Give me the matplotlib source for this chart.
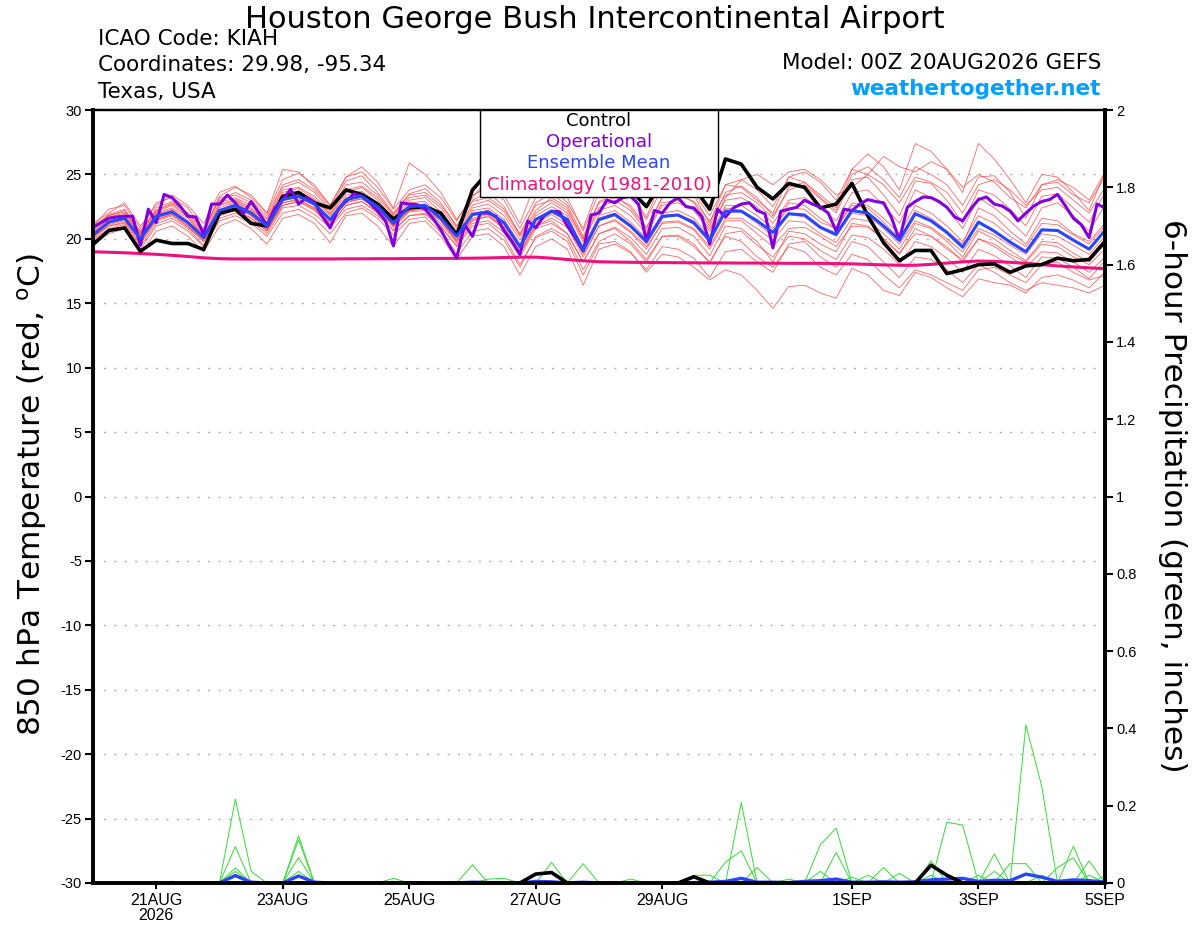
import numpy as np
import matplotlib
matplotlib.use('Agg')
import matplotlib.pyplot as plt
from matplotlib.patches import Rectangle

plt.rcParams['font.family'] = ['Liberation Sans', 'DejaVu Sans']
plt.rcParams['axes.unicode_minus'] = False
plt.rcParams['mathtext.fontset'] = 'custom'
plt.rcParams['mathtext.rm'] = 'DejaVu Sans'

WIDE = ['DejaVu Sans']

# forecast hours from 00Z 20AUG2026
hours = np.arange(0, 385, 6)
hours_op = np.arange(0, 385, 3)

tick_hours = [24, 72, 120, 168, 216, 288, 336, 384]
tick_labels = ['21AUG\n2026', '23AUG', '25AUG', '27AUG', '29AUG', '1SEP', '3SEP', '5SEP']

# 850 hPa temperature (C)
ctl_t = [19.56, 20.65, 20.85, 19.04,
         19.9, 19.64, 19.64, 19.17,
         22.0, 22.3, 21.2, 21.0,
         23.3, 23.6, 22.8, 22.4,
         23.8, 23.45, 22.7, 21.55,
         22.4, 22.5, 22.0, 20.3,
         23.8, 25.2, 25.0, 24.3,
         25.5, 25.0, 24.0, 23.5,
         24.8, 24.5, 23.8, 22.5,
         24.5, 24.8, 24.0, 22.3,
         26.2, 25.8, 24.0, 23.1,
         24.3, 24.0, 22.4, 22.7,
         24.3, 21.8, 19.7, 18.3,
         19.1, 19.1, 17.3, 17.6,
         18.0, 18.05, 17.4, 17.9,
         18.0, 18.5, 18.3, 18.4,
         19.8]

mean_t = [20.3, 21.3, 21.6, 20.0,
          21.75, 22.1, 21.25, 20.1,
          22.2, 22.6, 22.0, 21.0,
          23.05, 23.3, 22.7, 21.5,
          23.05, 23.3, 22.5, 21.2,
          22.5, 22.6, 21.6, 20.2,
          21.9, 22.1, 21.25, 19.4,
          21.5, 22.15, 21.5, 19.1,
          21.5, 21.9, 21.0, 19.8,
          21.75, 21.85, 21.25, 19.9,
          22.15, 22.15, 21.4, 20.5,
          21.95, 21.85, 20.9, 20.35,
          22.2, 22.0, 21.0, 19.9,
          21.95, 21.4, 20.5, 19.35,
          21.3, 20.6, 19.75, 19.0,
          20.7, 20.65, 19.9, 19.2,
          20.65]

op_t = [20.9, 21.25, 21.6, 21.7, 21.75, 21.75, 19.5, 22.3,
        21.25, 23.45, 23.2, 22.55, 21.75, 21.7, 20.35, 22.7,
        22.7, 23.4, 22.8, 21.95, 22.9, 22.0, 21.05, 22.4,
        23.05, 23.85, 22.7, 23.2, 22.8, 21.75, 20.85, 22.3,
        22.9, 23.5, 23.3, 22.8, 22.15, 21.4, 19.45, 22.8,
        22.7, 22.65, 22.3, 21.6, 20.7, 19.55, 18.5, 21.1,
        20.2, 22.0, 22.0, 21.75, 20.6, 19.8, 18.8, 21.4,
        20.85, 21.75, 22.15, 22.1, 21.0, 20.1, 19.05, 21.85,
        22.0, 23.0, 22.8, 23.2, 23.3, 22.7, 19.8, 22.2,
        22.0, 22.8, 23.2, 22.5, 22.4, 21.75, 19.6, 22.3,
        21.7, 22.4, 22.7, 22.8, 22.2, 21.95, 19.3, 22.15,
        22.3, 22.45, 23.0, 22.7, 22.45, 22.0, 20.6, 22.3,
        22.2, 22.7, 23.05, 22.9, 22.8, 21.65, 19.9, 22.45,
        22.9, 23.25, 23.2, 22.9, 22.45, 21.7, 21.4, 22.3,
        23.05, 23.25, 22.7, 22.55, 22.15, 21.4, 22.0, 22.55,
        22.9, 23.05, 23.45, 22.55, 21.6, 21.1, 20.1, 22.7,
        22.4]

clim_t = [19.0, 18.96, 18.92, 18.86,
          18.8, 18.72, 18.63, 18.53,
          18.46, 18.44, 18.44, 18.44,
          18.44, 18.44, 18.44, 18.44,
          18.45, 18.45, 18.46, 18.46,
          18.47, 18.48, 18.48, 18.49,
          18.5, 18.52, 18.55, 18.58,
          18.58, 18.5, 18.4, 18.3,
          18.22, 18.2, 18.18, 18.17,
          18.16, 18.15, 18.14, 18.13,
          18.13, 18.12, 18.12, 18.11,
          18.1, 18.1, 18.1, 18.08,
          18.06, 18.02, 17.98, 17.95,
          17.95, 18.02, 18.12, 18.22,
          18.28, 18.25, 18.18, 18.1,
          18.0, 17.9, 17.82, 17.75,
          17.68]

t_mem01 = [20.8, 21.9, 22.3, 20.5, 22.4, 22.9, 22.0, 20.8, 23.0, 23.6, 23.0, 21.8,
           24.2, 24.6, 23.8, 22.4, 24.5, 24.9, 23.6, 22.0, 23.5, 23.9, 22.8, 21.0,
           23.0, 23.6, 22.5, 20.3, 22.8, 23.5, 22.6, 20.2, 22.9, 23.4, 22.4, 20.8,
           23.2, 23.6, 22.8, 21.0, 23.6, 24.1, 23.2, 21.8, 23.8, 24.2, 23.1, 22.0,
           24.6, 24.8, 23.4, 21.8, 24.5, 24.3, 23.0, 21.2, 23.8, 23.4, 22.3, 21.0,
           23.3, 23.5, 22.4, 21.3, 23.6]
t_mem02 = [19.8, 20.6, 20.9, 19.2, 21.0, 21.4, 20.6, 19.4, 21.4, 21.8, 21.2, 20.2,
           22.0, 22.3, 21.6, 20.4, 22.0, 22.4, 21.6, 20.3, 21.5, 21.7, 20.5, 18.9,
           20.6, 20.8, 19.9, 17.8, 20.2, 20.8, 20.1, 17.6, 19.8, 20.4, 19.6, 18.2,
           20.2, 20.3, 19.6, 18.1, 20.4, 20.6, 19.5, 18.6, 20.2, 20.0, 19.1, 18.4,
           20.3, 20.1, 19.2, 18.0, 19.8, 19.4, 18.5, 17.4, 19.2, 18.7, 17.9, 17.0,
           18.6, 18.5, 17.8, 16.9, 18.3]
t_mem03 = [20.2, 21.0, 21.2, 19.6, 21.5, 21.9, 21.0, 19.8, 21.8, 22.3, 21.6, 20.6,
           22.6, 22.9, 22.2, 21.0, 22.6, 22.9, 22.0, 20.6, 21.8, 22.0, 21.0, 19.4,
           21.0, 21.2, 20.2, 18.0, 20.1, 20.6, 19.8, 17.2, 19.6, 19.8, 19.0, 17.4,
           18.8, 18.6, 17.8, 16.8, 17.6, 17.2, 16.0, 14.6, 16.3, 16.4, 15.8, 15.4,
           17.7, 17.2, 16.0, 15.6, 17.4, 17.0, 16.2, 15.5, 16.9, 16.6, 16.4, 15.8,
           17.0, 17.2, 16.8, 16.2, 17.4]
t_mem04 = [21.0, 22.3, 22.6, 20.8, 22.8, 23.2, 22.4, 20.6, 23.3, 24.0, 23.4, 22.0,
           24.6, 25.1, 24.2, 22.6, 24.8, 25.2, 24.0, 22.3, 23.8, 24.2, 23.2, 21.4,
           23.4, 24.0, 23.0, 20.8, 23.2, 24.0, 23.2, 20.6, 23.6, 24.2, 23.4, 21.5,
           24.0, 24.4, 23.6, 21.8, 24.2, 24.6, 23.8, 22.5, 24.8, 25.2, 24.4, 23.0,
           25.4, 26.6, 25.6, 23.8, 27.4, 26.8, 25.4, 23.6, 27.4, 26.2, 24.6, 22.8,
           25.0, 24.8, 23.6, 22.2, 25.2]
t_mem05 = [20.6, 21.6, 21.9, 20.2, 22.0, 22.4, 21.6, 20.2, 22.6, 23.0, 22.3, 21.2,
           23.4, 23.7, 23.0, 21.8, 23.4, 23.7, 22.8, 21.4, 22.8, 22.9, 21.8, 20.4,
           22.2, 22.4, 21.5, 19.6, 21.8, 22.5, 21.8, 19.3, 21.8, 22.2, 21.3, 20.0,
           22.0, 22.2, 21.6, 20.2, 22.6, 22.6, 21.8, 20.8, 22.4, 22.3, 21.3, 20.8,
           22.8, 22.6, 21.6, 20.4, 22.6, 22.0, 21.0, 19.8, 21.8, 21.2, 20.2, 19.4,
           21.2, 21.1, 20.3, 19.6, 21.0]
t_mem06 = [20.0, 21.0, 21.3, 19.7, 21.4, 21.8, 20.9, 19.8, 21.8, 22.2, 21.6, 20.6,
           22.6, 22.9, 22.3, 21.1, 22.6, 22.9, 22.1, 20.9, 22.1, 22.2, 21.2, 19.8,
           21.5, 21.7, 20.8, 18.9, 21.0, 21.6, 20.9, 18.6, 21.0, 21.4, 20.5, 19.2,
           21.3, 21.4, 20.8, 19.4, 21.6, 21.6, 20.8, 19.9, 21.4, 21.3, 20.4, 19.7,
           21.6, 21.4, 20.4, 19.2, 21.2, 20.8, 19.8, 18.6, 20.6, 20.0, 19.1, 18.3,
           19.8, 19.7, 18.9, 18.2, 19.6]
t_mem07 = [21.2, 22.0, 22.8, 21.0, 22.6, 23.4, 22.6, 21.2, 23.6, 24.1, 23.2, 22.0,
           25.4, 25.2, 24.0, 22.6, 24.8, 25.6, 24.4, 22.4, 25.9, 25.0, 23.6, 21.5,
           23.2, 24.6, 23.4, 21.2, 24.4, 24.0, 22.8, 20.8, 24.2, 24.9, 23.6, 21.7,
           24.6, 24.8, 23.4, 21.2, 24.2, 24.0, 23.0, 22.0, 24.8, 24.4, 23.2, 22.2,
           25.0, 25.6, 24.6, 23.2, 25.6, 25.0, 24.2, 22.6, 24.8, 24.9, 23.6, 21.6,
           24.2, 24.4, 23.4, 22.8, 24.8]
t_mem08 = [19.6, 20.4, 20.8, 18.8, 20.6, 21.0, 20.2, 19.0, 21.0, 21.5, 20.8, 19.6,
           21.6, 21.9, 21.2, 19.7, 21.8, 22.0, 21.0, 19.4, 21.2, 21.4, 20.2, 18.4,
           20.2, 20.4, 19.4, 17.2, 19.4, 20.0, 19.2, 16.4, 19.2, 19.6, 18.9, 17.6,
           19.4, 19.2, 18.5, 17.0, 19.0, 19.2, 18.2, 17.4, 19.6, 19.8, 18.6, 17.8,
           19.8, 19.4, 18.2, 17.0, 18.6, 18.4, 17.6, 16.6, 18.0, 17.4, 16.6, 16.0,
           16.6, 16.4, 16.2, 15.8, 16.4]
t_mem09 = [20.4, 21.4, 21.7, 20.1, 21.9, 22.3, 21.4, 20.3, 22.2, 22.8, 22.1, 21.0,
           23.0, 23.5, 22.6, 21.5, 23.2, 23.4, 22.6, 21.1, 22.4, 22.6, 21.5, 19.9,
           21.8, 22.0, 21.1, 19.2, 21.6, 22.1, 21.4, 19.0, 21.4, 21.8, 20.9, 19.6,
           21.6, 21.9, 21.1, 19.7, 22.2, 22.1, 21.2, 20.2, 21.9, 21.7, 20.8, 20.2,
           22.0, 21.8, 20.8, 19.6, 21.4, 20.9, 20.0, 19.0, 20.8, 20.3, 19.5, 18.8,
           20.4, 20.2, 19.5, 18.8, 20.2]
t_mem10 = [21.0, 21.8, 22.1, 20.6, 22.2, 22.7, 21.8, 20.5, 22.8, 23.2, 22.6, 21.5,
           23.8, 24.0, 23.3, 22.0, 23.8, 24.1, 23.2, 21.8, 23.2, 23.4, 22.4, 20.8,
           22.6, 23.0, 22.1, 20.2, 22.2, 23.2, 22.4, 20.0, 22.4, 23.0, 22.2, 20.6,
           22.8, 23.0, 22.3, 20.8, 23.0, 23.2, 22.5, 21.2, 23.0, 23.2, 22.4, 21.4,
           23.6, 23.8, 22.6, 21.2, 23.8, 23.2, 22.4, 20.8, 23.2, 22.4, 21.4, 20.2,
           22.4, 22.8, 21.8, 20.6, 22.6]
t_mem11 = [19.9, 20.8, 21.1, 19.4, 21.2, 21.6, 20.8, 19.5, 21.6, 22.0, 21.4, 20.4,
           22.4, 22.6, 21.9, 20.9, 22.3, 22.6, 21.8, 20.7, 21.8, 21.9, 20.9, 19.5,
           21.2, 21.4, 20.5, 18.6, 20.8, 21.2, 20.4, 18.2, 20.4, 20.9, 20.1, 18.8,
           20.8, 20.9, 20.2, 18.7, 21.0, 20.8, 19.8, 18.2, 20.6, 20.4, 19.6, 19.0,
           21.2, 21.0, 20.0, 18.8, 20.8, 20.2, 19.4, 18.2, 20.0, 19.4, 18.6, 17.8,
           19.0, 18.9, 18.2, 17.4, 18.6]
t_mem12 = [20.9, 21.8, 22.2, 20.4, 22.2, 22.8, 22.0, 20.6, 23.2, 23.4, 22.8, 21.6,
           24.0, 24.4, 23.6, 22.2, 24.2, 24.4, 23.4, 21.9, 23.4, 23.6, 22.6, 21.0,
           22.9, 23.2, 22.3, 20.4, 22.6, 23.0, 22.2, 20.0, 22.8, 23.2, 22.6, 20.9,
           23.2, 23.4, 22.9, 21.4, 23.4, 23.6, 22.8, 21.6, 24.0, 24.4, 23.4, 22.4,
           25.4, 25.0, 24.2, 22.8, 24.8, 24.4, 23.6, 22.0, 24.2, 24.6, 23.8, 22.6,
           23.8, 24.0, 23.0, 22.0, 24.0]
t_mem13 = [20.1, 21.1, 21.4, 19.9, 21.5, 21.9, 21.0, 19.9, 21.9, 22.4, 21.8, 20.7,
           22.8, 23.0, 22.4, 21.3, 22.8, 23.1, 22.3, 21.0, 22.2, 22.3, 21.4, 19.9,
           21.6, 21.9, 20.9, 19.0, 21.2, 21.9, 21.1, 18.8, 21.0, 21.5, 20.6, 19.4,
           21.2, 21.3, 20.7, 19.2, 21.4, 21.4, 20.4, 19.4, 20.8, 20.9, 20.2, 19.4,
           21.0, 20.9, 20.0, 18.9, 20.4, 20.2, 19.2, 18.4, 20.0, 19.6, 18.8, 18.2,
           19.6, 19.4, 18.6, 18.0, 19.2]
t_mem14 = [20.5, 21.5, 21.8, 20.3, 21.8, 22.2, 21.3, 20.1, 22.4, 22.9, 22.2, 21.1,
           23.2, 23.5, 22.8, 21.6, 23.0, 23.5, 22.6, 21.3, 22.6, 22.7, 21.6, 20.1,
           22.0, 22.2, 21.3, 19.4, 21.5, 22.2, 21.6, 19.4, 21.6, 22.0, 21.1, 19.8,
           21.8, 21.9, 21.4, 20.0, 22.4, 22.2, 21.4, 20.5, 22.8, 22.6, 21.6, 20.8,
           22.6, 22.4, 21.3, 20.0, 22.2, 21.6, 20.6, 19.6, 22.4, 21.8, 20.6, 19.6,
           21.6, 21.4, 20.4, 19.8, 21.2]
t_mem15 = [20.3, 21.2, 21.5, 19.9, 21.6, 22.0, 21.2, 20.0, 22.0, 22.5, 21.8, 20.8,
           22.8, 23.1, 22.4, 21.2, 22.9, 23.1, 22.4, 21.0, 22.2, 22.4, 21.4, 19.7,
           21.4, 21.8, 20.9, 18.8, 21.0, 21.4, 20.4, 18.2, 20.4, 20.8, 19.8, 18.4,
           20.2, 20.2, 19.4, 18.2, 20.2, 19.8, 18.6, 17.8, 19.4, 19.0, 17.8, 17.2,
           18.8, 18.4, 17.2, 16.2, 17.6, 17.2, 16.6, 16.0, 17.6, 17.8, 17.2, 16.6,
           18.0, 18.2, 17.4, 16.8, 17.2]
t_mem16 = [20.7, 21.7, 22.0, 20.4, 22.1, 22.6, 21.7, 20.3, 22.6, 23.1, 22.4, 21.3,
           23.6, 23.9, 23.1, 21.9, 23.6, 24.0, 23.0, 21.6, 23.0, 23.2, 22.1, 20.6,
           22.4, 22.7, 21.8, 19.9, 22.0, 22.8, 22.0, 19.8, 22.2, 22.6, 21.8, 20.4,
           22.6, 22.8, 22.2, 20.6, 23.2, 24.6, 25.0, 24.2, 25.2, 25.4, 24.6, 23.4,
           24.0, 25.0, 26.4, 25.6, 25.2, 26.0, 25.4, 24.0, 25.0, 24.4, 23.2, 22.4,
           24.2, 24.6, 24.0, 23.0, 25.2]

t_members = [t_mem01, t_mem02, t_mem03, t_mem04, t_mem05, t_mem06, t_mem07, t_mem08,
             t_mem09, t_mem10, t_mem11, t_mem12, t_mem13, t_mem14, t_mem15, t_mem16]

# 6-hour precipitation (inches)
p_mem1 = [0, 0, 0, 0, 0, 0, 0, 0, 0, 0.217, 0.03, 0, 0, 0, 0, 0,
          0, 0, 0, 0, 0, 0, 0, 0, 0, 0, 0, 0, 0, 0, 0, 0,
          0, 0, 0, 0, 0, 0, 0, 0, 0, 0.208, 0, 0, 0, 0, 0, 0,
          0, 0, 0, 0, 0, 0, 0, 0, 0, 0, 0, 0.409, 0.25, 0, 0, 0,
          0]
p_mem2 = [0, 0, 0, 0, 0, 0, 0, 0, 0, 0.094, 0, 0, 0, 0.122, 0, 0,
          0, 0, 0, 0, 0, 0, 0, 0, 0, 0, 0, 0, 0, 0, 0, 0,
          0, 0, 0, 0, 0, 0, 0, 0, 0, 0, 0, 0, 0, 0, 0.099, 0.142,
          0, 0, 0, 0, 0, 0, 0.157, 0.15, 0, 0, 0, 0, 0, 0, 0, 0,
          0]
p_mem3 = [0, 0, 0, 0, 0, 0, 0, 0, 0, 0.039, 0, 0, 0, 0.112, 0, 0,
          0, 0, 0, 0, 0, 0, 0, 0, 0, 0, 0, 0, 0, 0, 0, 0,
          0, 0, 0, 0, 0, 0, 0, 0, 0.054, 0.083, 0, 0, 0, 0, 0, 0.079,
          0, 0, 0, 0, 0, 0, 0, 0, 0, 0, 0.05, 0.05, 0, 0, 0.095, 0,
          0]
p_mem4 = [0, 0, 0, 0, 0, 0, 0, 0, 0, 0.03, 0, 0, 0, 0.066, 0, 0,
          0, 0, 0, 0, 0, 0, 0, 0, 0.047, 0, 0, 0, 0, 0.053, 0, 0.05,
          0, 0, 0, 0, 0, 0, 0, 0, 0, 0, 0.04, 0, 0, 0, 0, 0,
          0, 0, 0.04, 0, 0, 0.057, 0, 0, 0, 0.075, 0, 0, 0, 0, 0, 0.057,
          0]
p_mem5 = [0, 0, 0, 0, 0, 0, 0, 0, 0, 0.022, 0, 0, 0, 0.03, 0, 0,
          0, 0, 0, 0.012, 0, 0, 0, 0, 0, 0, 0, 0, 0, 0, 0, 0,
          0, 0, 0, 0, 0, 0, 0.02, 0.02, 0, 0, 0, 0, 0, 0, 0.03, 0,
          0.015, 0, 0, 0.025, 0, 0, 0, 0, 0.02, 0, 0, 0, 0, 0.04, 0.065, 0,
          0.018]
p_mem6 = [0, 0, 0, 0, 0, 0.004, 0, 0, 0, 0, 0, 0, 0, 0, 0, 0,
          0, 0, 0, 0, 0, 0, 0, 0, 0, 0.01, 0.012, 0, 0, 0, 0, 0,
          0, 0, 0.01, 0, 0, 0, 0, 0, 0, 0, 0, 0, 0.01, 0, 0, 0,
          0, 0.02, 0, 0, 0, 0.02, 0, 0, 0, 0.03, 0, 0, 0.02, 0, 0, 0.02,
          0]
p_members = [p_mem1, p_mem2, p_mem3, p_mem4, p_mem5, p_mem6]

mean_p = [0, 0, 0, 0, 0, 0.001, 0, 0, 0, 0.019, 0.002, 0, 0, 0.018, 0.002, 0,
          0, 0, 0, 0.001, 0, 0, 0, 0, 0.002, 0.001, 0.001, 0, 0.004, 0.003, 0, 0.002,
          0, 0, 0.001, 0, 0, 0, 0.001, 0.002, 0.004, 0.012, 0.002, 0.002, 0.001, 0.004, 0.006, 0.01,
          0.002, 0.002, 0.003, 0.002, 0.003, 0.008, 0.01, 0.012, 0.004, 0.007, 0.006, 0.023, 0.015, 0.004, 0.008, 0.006,
          0.002]
ctl_p = [0, 0, 0, 0, 0, 0, 0, 0, 0, 0, 0, 0, 0, 0, 0, 0,
         0, 0, 0, 0, 0, 0, 0, 0, 0, 0, 0, 0, 0.023, 0.027, 0, 0,
         0, 0, 0, 0, 0, 0, 0.016, 0, 0, 0, 0, 0, 0, 0, 0, 0,
         0, 0, 0, 0, 0, 0.046, 0.02, 0, 0, 0, 0, 0, 0, 0, 0, 0,
         0]

RED = '#ff4040'
GREEN = '#33dd33'
PURPLE = '#8000e0'
BLUE = '#2846ff'
MAGENTA = '#f0107f'

fig = plt.figure(figsize=(12, 9.27), dpi=100)
ax = fig.add_axes([0.0775, 0.0475, 0.8433, 0.8338])
ax2 = ax.twinx()

for m in t_members:
    ax.plot(hours, m, color=RED, lw=0.6, alpha=0.8)
ax.plot(hours, clim_t, color=MAGENTA, lw=2.2)
ax.plot(hours, ctl_t, color='black', lw=2.6)
ax.plot(hours_op, op_t, color=PURPLE, lw=2.2)
ax.plot(hours, mean_t, color=BLUE, lw=2.2)

ax.set_xlim(0, 384)
ax.set_ylim(-30, 30)
ax.set_yticks(range(-30, 31, 5))
ax.set_xticks(tick_hours)
ax.set_xticklabels(tick_labels, linespacing=1.05)
ax.yaxis.grid(True, color='#b0b0b0', linestyle=(0, (1.5, 6)), linewidth=1.0)
ax.set_axisbelow(True)
ax.tick_params(axis='y', direction='out', length=6, width=1.5, labelsize=10.5, pad=2)
ax.tick_params(axis='x', direction='out', length=4, width=1.5, labelsize=11.5, pad=3)

for g in p_members:
    ax2.plot(hours, g, color=GREEN, lw=0.7)
ax2.plot(hours, mean_p, color=BLUE, lw=2.4)
ax2.plot(hours, ctl_p, color='black', lw=2.6)
ax2.set_ylim(0, 2)
p_ticks = np.arange(0, 2.01, 0.2)
ax2.set_yticks(p_ticks)
ax2.set_yticklabels(['%g' % round(v, 1) for v in p_ticks])
ax2.tick_params(axis='y', direction='out', length=6, width=1.5, labelsize=10.5, pad=2)

for a in (ax, ax2):
    for side in ('left', 'right', 'bottom'):
        a.spines[side].set_linewidth(2.6)
    a.spines['top'].set_linewidth(1.6)

# legend box
ax2.add_patch(Rectangle((0.3824, 0.8875), 0.2352, 0.1125, transform=ax2.transAxes,
                        facecolor='white', edgecolor='black', lw=1.0, zorder=10))
leg_items = [('Control', 'black', 0.9858),
             ('Operational', PURPLE, 0.9586),
             ('Ensemble Mean', BLUE, 0.9314),
             ('Climatology (1981-2010)', MAGENTA, 0.9035)]
for txt, col, yy in leg_items:
    ax2.text(0.5, yy, txt, color=col, fontsize=13, family=WIDE, ha='center',
             va='center', transform=ax2.transAxes, zorder=11)

fig.text(595 / 1200, 1 - 19 / 927, 'Houston George Bush Intercontinental Airport',
         ha='center', va='center', fontsize=22, family=WIDE)
fig.text(98 / 1200, 1 - 39 / 927, 'ICAO Code: KIAH', va='center', fontsize=15.5,
         family=WIDE)
fig.text(98 / 1200, 1 - 65 / 927, 'Coordinates: 29.98, -95.34', va='center',
         fontsize=15.5, family=WIDE)
fig.text(98 / 1200, 1 - 92 / 927, 'Texas, USA', va='center', fontsize=15.5, family=WIDE)
fig.text(1101 / 1200, 1 - 63 / 927, 'Model: 00Z 20AUG2026 GEFS', ha='right',
         va='center', fontsize=15.5, family=WIDE)
fig.text(1101 / 1200, 1 - 89 / 927, 'weathertogether.net', ha='right', va='center',
         fontsize=15.5, fontweight='bold', color='#00a0ff', family=WIDE)

fig.text(32 / 1200, 1 - 495 / 927, r'850 hPa Temperature (red, $^{\mathrm{o}}$C)',
         rotation=90, ha='center', va='center', fontsize=22.5, family=WIDE)
fig.text(1172 / 1200, 1 - 496 / 927, '6-hour Precipitation (green, inches)',
         rotation=270, ha='center', va='center', fontsize=22.5, family=WIDE)

fig.savefig('out.png', dpi=100)
